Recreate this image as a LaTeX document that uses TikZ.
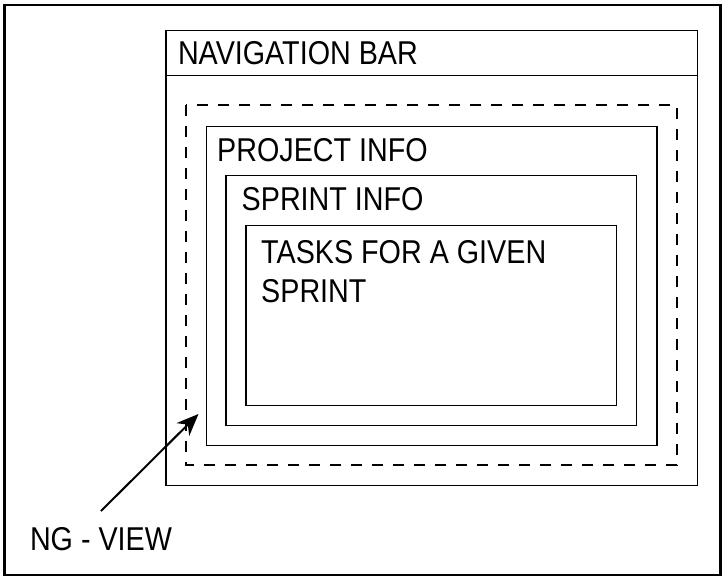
\documentclass[tikz,border=0pt]{standalone}
\usepackage{fontspec}
\setmainfont{Liberation Sans}[FakeStretch=0.87]
\usetikzlibrary{arrows.meta}
\tikzset{
  boxline/.style={draw=black, line width=1.9pt},
  frameline/.style={draw=black, line width=2.4pt},
  dashline/.style={draw=black, line width=1.9pt, dash pattern=on 11pt off 10pt},
  lbl/.style={inner sep=0pt, anchor=base west, font=\fontsize{33}{38.4}\selectfont},
  pointer/.style={draw=black, line width=2pt, -{Stealth[length=22pt,width=18pt,inset=7pt]}}
}
\begin{document}
\begin{tikzpicture}[x=1pt,y=-1pt]
\useasboundingbox (0,0) rectangle (728,581);
% outer frame
\draw[frameline] (4.5,5) rectangle (720.5,575);
% navigation bar box
\draw[boxline] (166,30.5) rectangle (697.5,485.5);
\draw[boxline] (166,75.5) -- (697.5,75.5);
\node[lbl] (nav) at (177.8,64.3) {NAVIGATION BAR};
% ng-view dashed region
\draw[dashline] (186,105) rectangle (677,465);
% project info
\draw[boxline] (206.5,126.5) rectangle (657,445.5);
\node[lbl] (proj) at (217,161.7) {PROJECT INFO};
% sprint info
\draw[boxline] (226,175.5) rectangle (636.5,425.5);
\node[lbl] (sprint) at (241.5,210) {SPRINT INFO};
% tasks
\draw[boxline] (246,225.5) rectangle (616.5,405.5);
\node[lbl, anchor=north west, align=left] (tasks) at (261,240.4) {TASKS FOR A GIVEN\\SPRINT};
% label and pointer
\node[lbl] (ngview) at (29.8,550) {NG - VIEW};
\coordinate (tail) at (101,511);
\coordinate (tip) at (198.5,414);
\draw[pointer] (tail) -- (tip);
\end{tikzpicture}
\end{document}
